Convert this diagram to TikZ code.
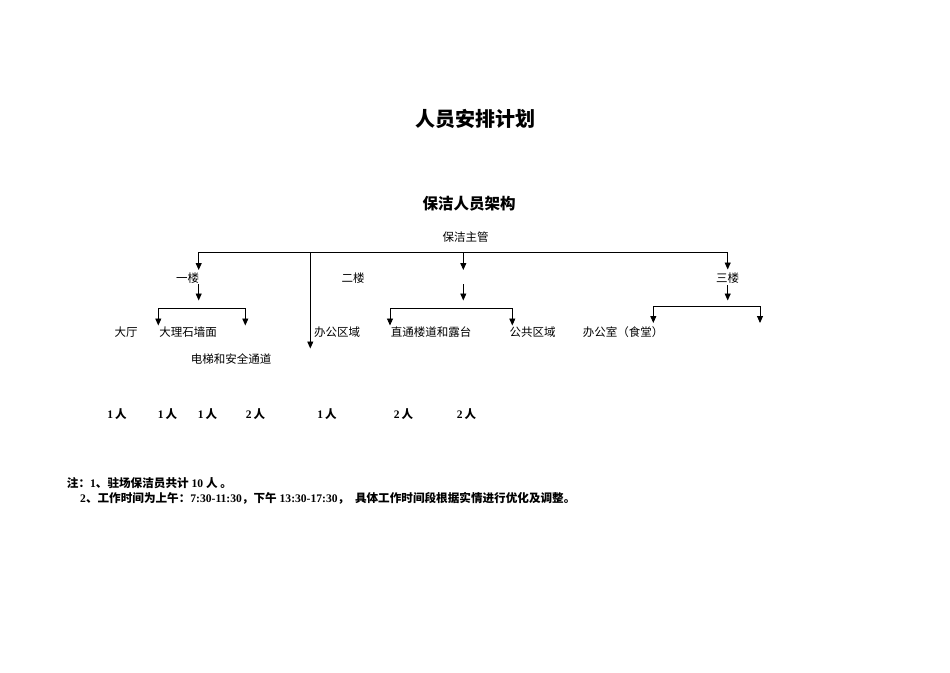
\documentclass[tikz,border=0pt]{standalone}
\usepackage{fontspec}
\setmainfont{Liberation Serif}
\newfontfamily\cjk{Noto Sans CJK SC}
\usetikzlibrary{arrows.meta}
\tikzset{
  lbl/.style={inner sep=0pt, font=\cjk\fontsize{11.5}{13}\selectfont},
  ttl/.style={inner sep=0pt, font=\cjk\bfseries\fontsize{20}{22}\selectfont},
  subttl/.style={inner sep=0pt, font=\cjk\bfseries\fontsize{15.5}{17}\selectfont},
  cnt/.style={inner sep=0pt, font=\bfseries\fontsize{11.5}{13}\selectfont},
  note/.style={inner sep=0pt, anchor=west, font=\bfseries\fontsize{11.6}{13}\selectfont},
  ln/.style={line width=0.9pt},
  arr/.style={ln,-{Triangle[width=6pt,length=7pt]}},
  arr2/.style={ln,{Triangle[width=6pt,length=7pt]}-{Triangle[width=6pt,length=7pt]}}
}
\newcommand{\cb}[1]{{\cjk\bfseries #1}}
\begin{document}
\begin{tikzpicture}[x=1pt,y=-1pt]
\useasboundingbox (0,0) rectangle (950,672);
\fill[white] (0,0) rectangle (950,672);

% texts
\node[ttl] (title) at (475.5,119) {人员安排计划};
\node[subttl] (subt) at (469,204) {保洁人员架构};
\node[lbl] (chief) at (465.5,237) {保洁主管};
\node[lbl] (f1) at (187.5,278) {一楼};
\node[lbl] (f2) at (353,278) {二楼};
\node[lbl] (f3) at (727.5,278) {三楼};
\node[lbl] (hall) at (126,332) {大厅};
\node[lbl] (marble) at (188,332) {大理石墙面};
\node[lbl] (elev) at (231,359) {电梯和安全通道};
\node[lbl] (office) at (337,332) {办公区域};
\node[lbl] (stair) at (431,332) {直通楼道和露台};
\node[lbl] (public) at (532.5,332) {公共区域};
\node[lbl] (canteen) at (623,332) {办公室（食堂）};

% counts
\node[cnt] (c1) at (117,414) {1\,\cb{人}};
\node[cnt] (c2) at (167.5,414) {1\,\cb{人}};
\node[cnt] (c3) at (207.5,414) {1\,\cb{人}};
\node[cnt] (c4) at (255.5,414) {2\,\cb{人}};
\node[cnt] (c5) at (327,414) {1\,\cb{人}};
\node[cnt] (c6) at (403.5,414) {2\,\cb{人}};
\node[cnt] (c7) at (466.5,414) {2\,\cb{人}};

% notes
\node[note] (n1) at (66.7,483.5) {\cb{注：}1\cb{、驻场保洁员共计} 10 \cb{人 。}};
\node[note] (n2) at (80,498.3) {2\cb{、工作时间为上午：}7:30-11:30\cb{，下午} 13:30-17:30\cb{，}\ \ \cb{具体工作时间段根据实情进行优化及调整。}};

% connector coordinates
\coordinate (b1) at (198.7,252.7);
\coordinate (bm) at (310.3,252.7);
\coordinate (b2) at (463.3,252.7);
\coordinate (b3) at (727.7,252.7);
\coordinate (b1t) at (198.7,270);
\coordinate (b2t) at (463.3,270);
\coordinate (b3t) at (727.7,269.5);
\coordinate (bmt) at (310.3,348.5);

\coordinate (f1s) at (198.7,284);
\coordinate (f1e) at (198.7,300.5);
\coordinate (f2s) at (463.3,284);
\coordinate (f2e) at (463.3,300.5);
\coordinate (f3s) at (727.7,285);
\coordinate (f3e) at (727.7,300.5);

\coordinate (h1l) at (158.3,308.3);
\coordinate (h1r) at (245.3,308.3);
\coordinate (h1lt) at (158.3,325.5);
\coordinate (h1rt) at (245.3,325.5);
\coordinate (h2l) at (390,308.3);
\coordinate (h2r) at (512.3,308.3);
\coordinate (h2lt) at (390,325.5);
\coordinate (h2rt) at (512.3,325.5);
\coordinate (h3l) at (653.3,306);
\coordinate (h3r) at (760,306);
\coordinate (h3lt) at (653.3,323);
\coordinate (h3rt) at (760,323);

% connectors
\draw[arr2] (b1t) -- (b1) -- (b3) -- (b3t);
\draw[arr] (bm) -- (bmt);
\draw[arr] (b2) -- (b2t);
\draw[arr] (f1s) -- (f1e);
\draw[arr] (f2s) -- (f2e);
\draw[arr] (f3s) -- (f3e);
\draw[arr2] (h1lt) -- (h1l) -- (h1r) -- (h1rt);
\draw[arr2] (h2lt) -- (h2l) -- (h2r) -- (h2rt);
\draw[arr2] (h3lt) -- (h3l) -- (h3r) -- (h3rt);
\end{tikzpicture}
\end{document}
